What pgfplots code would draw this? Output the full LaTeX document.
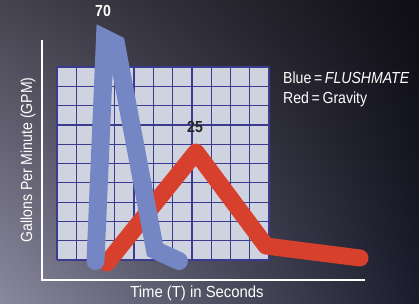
\documentclass[border=0pt]{standalone}
\usepackage{pgfplots}
\pgfplotsset{compat=1.18}
\usetikzlibrary{shadings}
\usepackage{fontspec}
\setmainfont{Liberation Sans}
\newfontfamily\cond[FakeStretch=0.88]{Liberation Sans}
\newfontfamily\condb[FakeStretch=0.93]{Liberation Sans}
\definecolor{bgUL}{HTML}{45434F}
\definecolor{bgLL}{HTML}{8A889E}
\definecolor{bgUR}{HTML}{0E0D14}
\definecolor{bgLR}{HTML}{1A1C2C}
\definecolor{panel}{HTML}{CFD2DF}
\definecolor{gridc}{HTML}{3A3C90}
\definecolor{flushblue}{HTML}{7486C4}
\definecolor{gravred}{HTML}{D8402E}
\begin{document}
\begin{tikzpicture}[x=1pt,y=1pt]
\shade[upper left=bgUL,upper right=bgUR,lower left=bgLL,lower right=bgLR] (0,0) rectangle (419,303);
% grid panel
\fill[panel] (57,43) rectangle (269,236);
\foreach \i in {0,...,11} {\draw[gridc,line width=1.2pt] ({57+\i*212/11},43) -- ({57+\i*212/11},236);}
\foreach \j in {0,...,10} {\draw[gridc,line width=1.2pt] (57,{43+\j*19.3}) -- (269,{43+\j*19.3});}
% white axis lines
\draw[white,line width=1.3pt] (42,263) -- (42,23) -- (365,23);
\begin{axis}[x=1pt,y=1pt,xmin=0,xmax=419,ymin=0,ymax=303,hide axis,
  anchor=south west,at={(0,0)},clip=false]
\addplot[gravred,line width=17pt,line cap=round,line join=round] coordinates {
  (107,40) (196,151) (266,57) (360,45)};
\addplot[flushblue,line width=18pt,line cap=round,line join=miter] coordinates {
  (95.5,42) (105,264.5) (116,259) (155,53) (179,42)};
\end{axis}
\node[white,font=\cond\fontsize{16}{18}\selectfont\bfseries] at (103,292) {70};
\node[black!85,font=\cond\fontsize{16}{18}\selectfont\bfseries] at (195,176) {25};
\node[white,anchor=base west,font=\cond\fontsize{16}{18}\selectfont,inner sep=0pt] at (283,220) {Blue\,=\,\textit{FLUSHMATE}};
\node[white,anchor=base west,font=\cond\fontsize{16}{18}\selectfont,inner sep=0pt] at (283,200) {Red\,=\,Gravity};
\node[white,anchor=base,font=\condb\fontsize{16}{18}\selectfont,inner sep=0pt] at (197,6) {Time (T) in Seconds};
\node[white,anchor=base,rotate=90,font=\cond\fontsize{16}{18}\selectfont,inner sep=0pt] at (32,143) {Gallons Per Minute (GPM)};
\end{tikzpicture}
\end{document}
